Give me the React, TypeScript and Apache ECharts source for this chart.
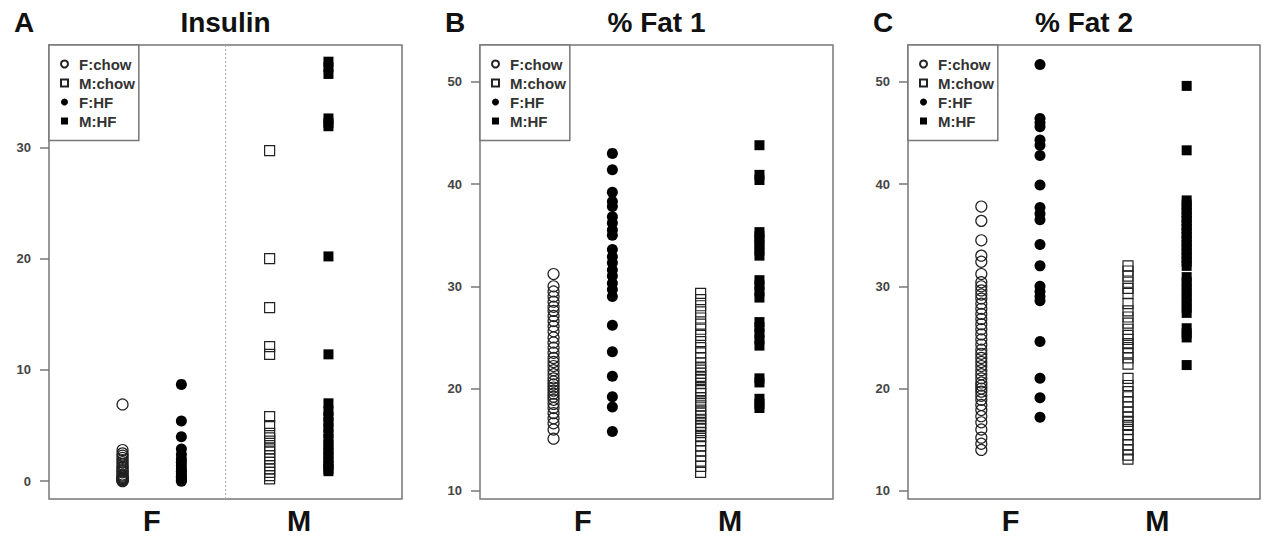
import { useEffect, useRef } from 'react';
import * as echarts from 'echarts';

// ---------- data ----------
const SEXES = ['F', 'M'];
const GROUP_NAMES = ['F:chow', 'M:chow', 'F:HF', 'M:HF'];
const GROUP_SEX = [0, 1, 0, 1];
const GROUP_SIDE = [-1, -1, 1, 1]; // chow left of sex position, HF right
const PANEL_LETTERS = ['A', 'B', 'C'];
const PANEL_TITLES = ['Insulin', '% Fat 1', '% Fat 2'];
const INSULIN_TICKS = [0, 10, 20, 30];
const FAT_TICKS = [10, 20, 30, 40, 50];

const insulinFchow = [6.9, 2.8, 2.5, 2.3, 2.1, 1.9, 1.7, 1.5, 1.3, 1.2, 1.0, 0.9, 0.8, 0.6, 0.5, 0.4, 0.3, 0.25, 0.2, 0.15, 0.1, 0.05, 0.0];
const insulinFHF = [8.7, 5.4, 4.0, 2.9, 2.4, 2.0, 1.7, 1.4, 1.1, 0.9, 0.7, 0.5, 0.35, 0.2, 0.1, 0.0];
const insulinMchow = [29.7, 20.0, 15.6, 12.1, 11.4, 5.8, 5.0, 4.3, 3.9, 3.6, 3.2, 2.9, 2.6, 2.3, 2.0, 1.7, 1.4, 1.1, 0.8, 0.5, 0.2];
const insulinMHF = [37.7, 37.2, 36.6, 32.6, 32.2, 31.9, 20.2, 11.4, 7.0, 6.3, 5.8, 5.3, 4.8, 4.3, 3.8, 3.3, 2.9, 2.5, 2.1, 1.7, 1.4, 1.1, 0.9];

const fat1Fchow = [31.2, 30.0, 29.5, 29.0, 28.5, 28.0, 27.6, 27.1, 26.6, 26.1, 25.6, 25.0, 24.5, 24.0, 23.5, 23.0, 22.6, 22.2, 21.8, 21.4, 21.0, 20.7, 20.4, 20.1, 19.8, 19.5, 19.2, 18.9, 18.5, 18.1, 17.6, 17.1, 16.6, 16.0, 15.1];
const fat1FHF = [43.0, 41.4, 39.2, 38.3, 37.8, 36.8, 36.2, 35.5, 35.0, 33.6, 32.9, 32.3, 31.6, 31.0, 30.3, 29.7, 29.0, 26.2, 23.6, 21.2, 19.2, 18.2, 15.8];
const fat1Mchow = [29.3, 28.7, 28.1, 27.5, 26.9, 26.3, 25.8, 25.2, 24.6, 24.0, 23.5, 23.0, 22.5, 22.1, 21.8, 21.5, 21.2, 20.9, 20.5, 20.1, 19.8, 19.5, 19.1, 18.7, 18.3, 17.9, 17.6, 17.3, 17.0, 16.7, 16.4, 16.1, 15.7, 15.3, 14.9, 14.4, 13.9, 13.4, 12.9, 12.4, 11.8];
const fat1MHF = [43.8, 40.9, 40.4, 35.3, 34.9, 34.5, 34.0, 33.5, 33.0, 30.6, 30.1, 29.5, 28.9, 26.5, 26.0, 25.4, 24.8, 24.2, 21.0, 20.6, 19.0, 18.5, 18.1];

const fat2Fchow = [37.8, 36.4, 34.5, 33.0, 32.4, 31.2, 30.4, 30.0, 29.6, 29.2, 28.8, 28.3, 27.8, 27.3, 26.8, 26.3, 25.8, 25.3, 24.8, 24.3, 23.8, 23.4, 23.0, 22.6, 22.2, 21.8, 21.4, 21.0, 20.6, 20.3, 20.0, 19.7, 19.3, 18.9, 18.4, 17.9, 17.3, 16.7, 16.0, 15.2, 14.6, 14.0];
const fat2FHF = [51.7, 46.4, 46.0, 45.6, 44.3, 43.8, 42.8, 39.9, 37.7, 37.1, 36.5, 34.1, 32.0, 30.0, 29.5, 29.0, 28.6, 24.6, 21.0, 19.1, 17.2];
const fat2Mchow = [32.0, 31.5, 31.0, 30.4, 29.8, 29.3, 28.3, 27.6, 27.0, 26.4, 25.8, 25.2, 24.8, 24.4, 24.0, 23.5, 23.0, 22.4, 21.0, 20.3, 19.7, 19.2, 18.7, 18.2, 17.7, 17.2, 16.8, 16.4, 16.0, 15.5, 15.0, 14.5, 14.0, 13.5, 13.1];
const fat2MHF = [49.6, 43.3, 38.4, 38.0, 37.6, 37.2, 36.8, 36.4, 36.0, 35.6, 35.2, 34.8, 34.4, 34.0, 33.6, 33.2, 32.8, 32.4, 32.0, 30.9, 30.4, 29.9, 29.4, 28.9, 28.4, 27.9, 27.4, 25.9, 25.4, 25.0, 22.3];

const PANEL_DATA = [
  [insulinFchow, insulinMchow, insulinFHF, insulinMHF],
  [fat1Fchow, fat1Mchow, fat1FHF, fat1MHF],
  [fat2Fchow, fat2Mchow, fat2FHF, fat2MHF],
];
const PANEL_TICKS = [INSULIN_TICKS, FAT_TICKS, FAT_TICKS];

// ---------- layout / style ----------
const FONT = "'Liberation Sans', Arial, Helvetica, sans-serif";
const PANEL_LEFT = [49, 480, 908];
const PANEL_W = [353, 353, 352];
const PANEL_TOP = 45;
const PANEL_H = 454;
const Y_RANGE = [[-1.6, 39.2], [9.2, 53.6], [9.2, 53.6]];
const X_RANGE = [0.3, 2.7];
const DIET_OFFSET = 0.2;
const SYMBOLS = ['circle', 'rect', 'circle', 'rect'];
const FILLED = [false, false, true, true];
const BOX_COLOR = '#777';

export default function App() {
  const ref = useRef<HTMLDivElement>(null);

  useEffect(() => {
    if (!ref.current) return;
    const chart = echarts.init(ref.current, undefined, { renderer: 'svg' });

    const grid = PANEL_LEFT.map((left, p) => ({
      left,
      top: PANEL_TOP,
      width: PANEL_W[p],
      height: PANEL_H,
      show: true,
      borderColor: BOX_COLOR,
      borderWidth: 1.5,
      backgroundColor: 'transparent',
      containLabel: false,
    }));

    const xAxis = PANEL_LEFT.map((_, p) => ({
      type: 'value',
      gridIndex: p,
      min: X_RANGE[0],
      max: X_RANGE[1],
      axisLine: { show: false },
      axisTick: { show: false },
      splitLine: { show: false },
      axisLabel: {
        customValues: SEXES.map((_, i) => i + 1),
        formatter: (v: number) => SEXES[Math.round(v) - 1] ?? '',
        fontSize: 29,
        fontWeight: 'bold',
        fontFamily: FONT,
        color: '#111',
        verticalAlign: 'middle',
        lineHeight: 29,
        margin: 22,
      },
    }));

    const yAxis = PANEL_LEFT.map((_, p) => ({
      type: 'value',
      gridIndex: p,
      min: Y_RANGE[p][0],
      max: Y_RANGE[p][1],
      axisLine: { show: false },
      splitLine: { show: false },
      axisTick: {
        show: true,
        customValues: PANEL_TICKS[p],
        length: 9,
        lineStyle: { color: BOX_COLOR, width: 1.5 },
      },
      axisLabel: {
        customValues: PANEL_TICKS[p],
        fontSize: 13,
        fontWeight: 'bold',
        fontFamily: FONT,
        color: '#444',
        margin: 18,
      },
    }));

    const series: any[] = [];
    PANEL_DATA.forEach((groups, p) => {
      groups.forEach((vals, g) => {
        const xPos = GROUP_SEX[g] + 1 + GROUP_SIDE[g] * DIET_OFFSET;
        const s: any = {
          type: 'scatter',
          name: GROUP_NAMES[g],
          xAxisIndex: p,
          yAxisIndex: p,
          symbol: SYMBOLS[g],
          symbolSize: SYMBOLS[g] === 'circle' ? 11 : 10,
          itemStyle: FILLED[g]
            ? { color: '#000', opacity: 1 }
            : { color: 'rgba(255,255,255,0)', borderColor: '#222', borderWidth: 1.2, opacity: 1 },
          emphasis: { disabled: true },
          data: vals.map((v) => [xPos, v]),
        };
        if (p === 0 && g === 0) {
          s.markLine = {
            silent: true,
            symbol: ['none', 'none'],
            label: { show: false },
            lineStyle: { type: [2, 2], color: '#aaa', width: 1 },
            data: [{ xAxis: (SEXES.length + 1) / 2 }],
          };
        }
        series.push(s);
      });
    });

    const legend = PANEL_LEFT.map((left) => ({
      orient: 'vertical',
      left,
      top: PANEL_TOP,
      data: GROUP_NAMES.map((n, i) => ({ name: n, icon: SYMBOLS[i] })),
      itemWidth: 7,
      itemHeight: 7,
      itemGap: 4,
      padding: [11.5, 4, 12, 11],
      borderColor: BOX_COLOR,
      borderWidth: 1.5,
      backgroundColor: '#fff',
      selectedMode: false,
      textStyle: {
        fontSize: 15,
        fontWeight: 'bold',
        fontFamily: FONT,
        color: '#333',
        lineHeight: 13,
        padding: [0, 0, 0, 6],
      },
    }));

    const graphic: any[] = [];
    PANEL_LEFT.forEach((left, p) => {
      graphic.push({
        type: 'text',
        x: left + PANEL_W[p] / 2,
        y: 22.5,
        style: {
          text: PANEL_TITLES[p],
          font: `bold 28px ${FONT}`,
          fill: '#111',
          textAlign: 'center',
          textVerticalAlign: 'middle',
        },
      });
      graphic.push({
        type: 'text',
        x: left - 25,
        y: 22.5,
        style: {
          text: PANEL_LETTERS[p],
          font: `bold 28px ${FONT}`,
          fill: '#111',
          textAlign: 'center',
          textVerticalAlign: 'middle',
        },
      });
    });

    chart.setOption({
      animation: false,
      backgroundColor: '#fff',
      grid,
      xAxis,
      yAxis,
      legend,
      series,
      graphic,
    } as any);

    return () => chart.dispose();
  }, []);

  return (
    <div
      ref={ref}
      style={{ position: 'fixed', left: 0, top: 0, width: 1270, height: 542, background: '#fff' }}
    />
  );
}
